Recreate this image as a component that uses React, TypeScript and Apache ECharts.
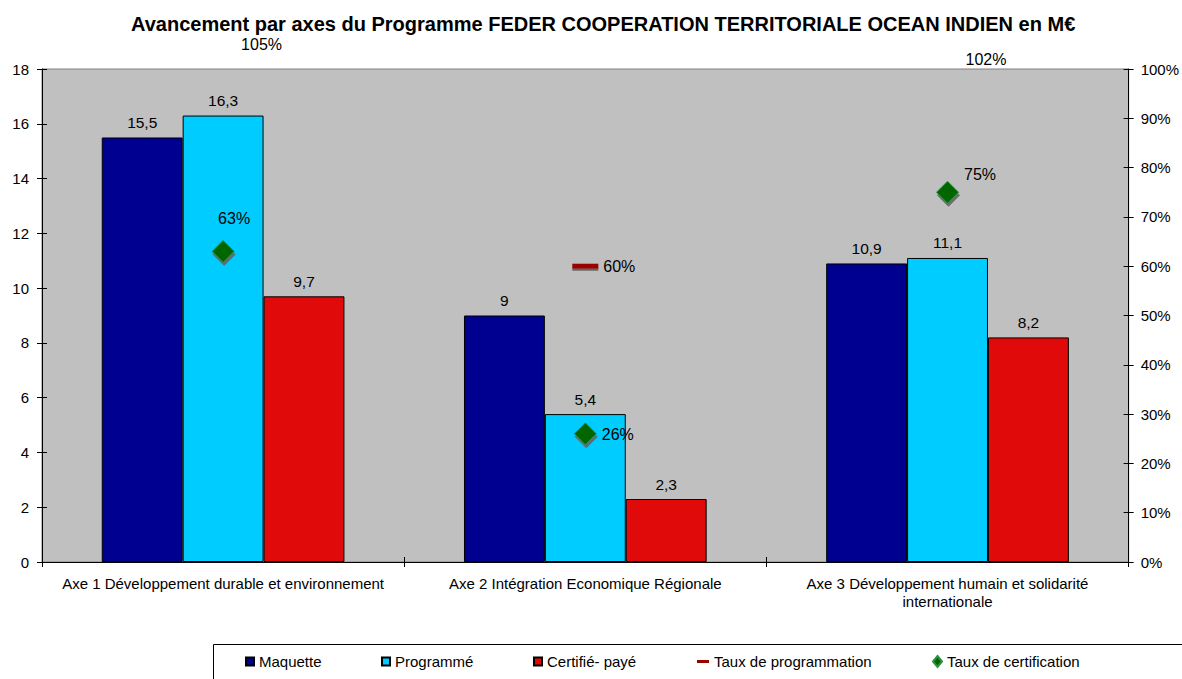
import React, { useEffect, useRef } from "react";
import * as echarts from "echarts";

const categories = [
  "Axe 1 Développement durable et environnement",
  "Axe 2 Intégration Economique Régionale",
  "Axe 3 Développement humain et solidarité\ninternationale",
];
const maquette = [15.5, 9, 10.9];
const programme = [16.3, 5.4, 11.1];
const certifie = [9.7, 2.3, 8.2];
const tauxProgrammation = [1.05, 0.6, 1.02];
const tauxCertification = [0.63, 0.26, 0.75];

const FONT = "'Liberation Sans', Arial, sans-serif";
const fmtNum = (v: number) => String(v).replace(".", ",");
const fmtPct = (v: number) => Math.round(v * 100) + "%";

// label placement for the certification points (style only)
const certLabelCfg = [
  { position: "top", offset: [11, -8] },
  { position: "right", offset: [0, 1] },
  { position: "right", offset: [0, -18] },
];

export default function App() {
  const ref = useRef<HTMLDivElement>(null);
  useEffect(() => {
    if (!ref.current) return;
    const chart = echarts.init(ref.current, null, { renderer: "svg" });
    const barLabel = {
      show: true,
      position: "top",
      distance: 7,
      color: "#000",
      fontFamily: FONT,
      fontSize: 15.5,
      formatter: (p: any) => fmtNum(p.value),
    };
    const barBase = {
      type: "bar",
      barGap: "0%",
      barCategoryGap: "33%",
      label: barLabel,
    };
    const legendBase = {
      top: 654,
      padding: 0,
      itemWidth: 8,
      itemHeight: 8,
      textStyle: { fontFamily: FONT, fontSize: 15, color: "#000" },
      selectedMode: false,
    };
    const tick = { show: true, length: 5, lineStyle: { color: "#000" } };
    const innerTick = { show: true, inside: true, length: 5, lineStyle: { color: "#000" } };
    const option: any = {
      animation: false,
      backgroundColor: "#fff",
      textStyle: { fontFamily: FONT },
      title: {
        text: "Avancement par axes du Programme FEDER COOPERATION TERRITORIALE OCEAN INDIEN en M€",
        left: 126,
        top: 9,
        textStyle: { fontFamily: FONT, fontSize: 20, fontWeight: "bold", color: "#000" },
      },
      graphic: [
        {
          type: "rect",
          shape: { x: 213.5, y: 644.5, width: 1100, height: 60 },
          style: { fill: "#fff", stroke: "#000", lineWidth: 1 },
          z: 0,
        },
      ],
      legend: [
        { ...legendBase, left: 245, data: [{ name: "Maquette", icon: "rect" }] },
        { ...legendBase, left: 381, data: [{ name: "Programmé", icon: "rect" }] },
        { ...legendBase, left: 533, data: [{ name: "Certifié- payé", icon: "rect" }] },
        { ...legendBase, left: 697, itemWidth: 12, itemHeight: 3, data: [{ name: "Taux de programmation", icon: "rect" }] },
        { ...legendBase, left: 932, itemWidth: 9, itemHeight: 11, data: [{ name: "Taux de certification", icon: "diamond" }] },
      ],
      grid: {
        left: 42,
        right: 53,
        top: 69,
        bottom: 117,
        show: true,
        backgroundColor: "#C0C0C0",
        borderColor: "#808080",
        borderWidth: 1,
      },
      xAxis: [
        {
          type: "category",
          data: categories,
          position: "bottom",
          axisLine: { lineStyle: { color: "#000", width: 1 } },
          axisTick: tick,
          axisLabel: {
            color: "#000",
            fontFamily: FONT,
            fontSize: 15,
            margin: 12,
            lineHeight: 18,
            interval: 0,
          },
          z: 3,
        },
        {
          type: "category",
          data: categories,
          position: "bottom",
          axisLine: { show: false },
          axisTick: innerTick,
          axisLabel: { show: false },
          z: 3,
        },
      ],
      yAxis: [
        {
          type: "value",
          min: 0,
          max: 18,
          interval: 2,
          position: "left",
          axisLine: { show: true, lineStyle: { color: "#000" } },
          axisTick: tick,
          splitLine: { show: false },
          axisLabel: { color: "#000", fontFamily: FONT, fontSize: 15, margin: 13 },
        },
        {
          type: "value",
          min: 0,
          max: 1,
          interval: 0.1,
          position: "right",
          axisLine: { show: true, lineStyle: { color: "#000" } },
          axisTick: tick,
          splitLine: { show: false },
          axisLabel: {
            color: "#000",
            fontFamily: FONT,
            fontSize: 15,
            margin: 12,
            formatter: (v: number) => fmtPct(v),
          },
        },
        {
          type: "value",
          min: 0,
          max: 18,
          interval: 2,
          position: "left",
          offset: 0,
          axisLine: { show: false },
          axisTick: innerTick,
          splitLine: { show: false },
          axisLabel: { show: false },
        },
        {
          type: "value",
          min: 0,
          max: 1,
          interval: 0.1,
          position: "right",
          offset: 0,
          axisLine: { show: false },
          axisTick: innerTick,
          splitLine: { show: false },
          axisLabel: { show: false },
        },
      ],
      series: [
        {
          ...barBase,
          name: "Maquette",
          data: maquette,
          itemStyle: { color: "#000090", borderColor: "#000", borderWidth: 1 },
        },
        {
          ...barBase,
          name: "Programmé",
          data: programme,
          itemStyle: { color: "#00CCFF", borderColor: "#000", borderWidth: 1 },
        },
        {
          ...barBase,
          name: "Certifié- payé",
          data: certifie,
          itemStyle: { color: "#E00A0A", borderColor: "#000", borderWidth: 1 },
        },
        {
          type: "line",
          name: "Taux de programmation",
          yAxisIndex: 1,
          clip: false,
          symbol: "rect",
          symbolSize: [26, 5],
          lineStyle: { width: 0, opacity: 0 },
          itemStyle: {
            color: "#990000",
            shadowColor: "rgba(90,90,90,0.9)",
            shadowOffsetX: 0,
            shadowOffsetY: 2,
            shadowBlur: 0,
          },
          label: {
            show: true,
            position: "right",
            distance: 5,
            color: "#000",
            fontFamily: FONT,
            fontSize: 16,
            formatter: (p: any) => fmtPct(p.value),
          },
          data: tauxProgrammation.map((v) =>
            v > 1
              ? {
                  value: v,
                  itemStyle: { color: "rgba(0,0,0,0)", shadowColor: "rgba(0,0,0,0)" },
                }
              : v
          ),
          z: 5,
        },
        {
          type: "line",
          name: "Taux de certification",
          yAxisIndex: 1,
          clip: false,
          symbol: "diamond",
          symbolSize: 22,
          lineStyle: { width: 0, opacity: 0 },
          itemStyle: {
            color: "#006600",
            borderColor: "#2f8f3f",
            borderWidth: 1,
            shadowColor: "rgba(100,100,100,0.9)",
            shadowOffsetX: 1,
            shadowOffsetY: 3,
            shadowBlur: 0,
          },
          label: {
            show: true,
            color: "#000",
            fontFamily: FONT,
            fontSize: 16,
            formatter: (p: any) => fmtPct(p.value),
          },
          data: tauxCertification.map((v, i) => ({
            value: v,
            label: { position: certLabelCfg[i].position, offset: certLabelCfg[i].offset },
          })),
          z: 5,
        },
      ],
    };
    chart.setOption(option);
    return () => chart.dispose();
  }, []);
  return (
    <div
      ref={ref}
      style={{ position: "absolute", left: 0, top: 0, width: 1182, height: 679, background: "#fff" }}
    />
  );
}
